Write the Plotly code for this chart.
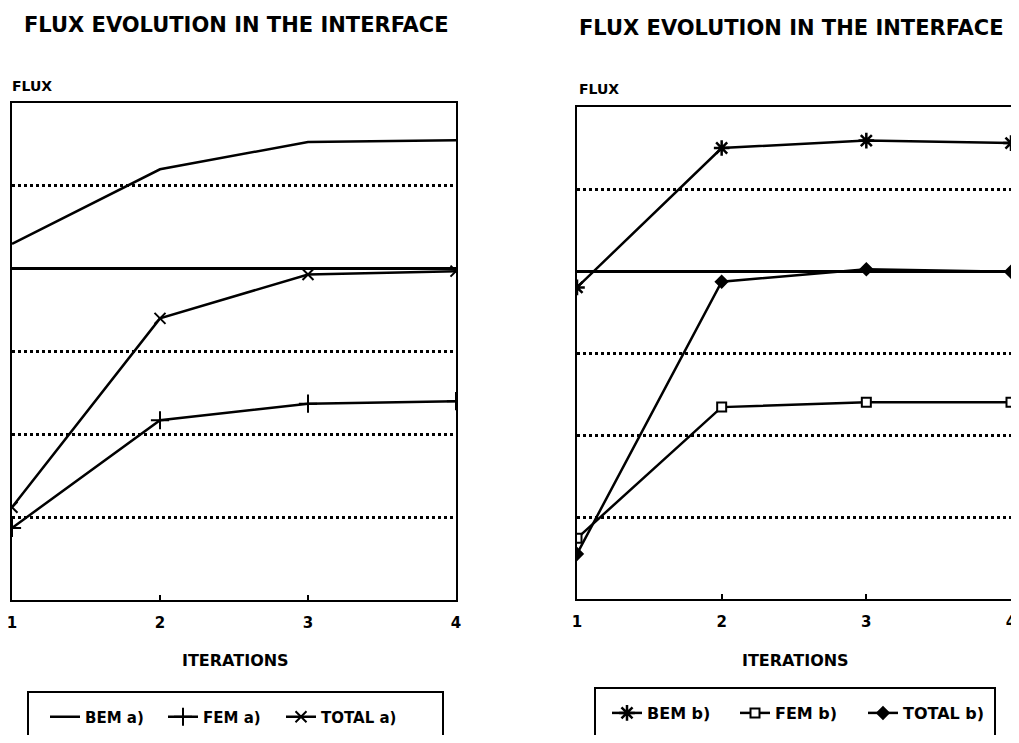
import plotly.graph_objects as go

iterations = [1, 2, 3, 4]
tick_labels = ["1", "2", "3", "4"]

bem_a = [0.30, 1.20, 1.53, 1.55]
fem_a = [-3.13, -1.83, -1.63, -1.60]
total_a = [-2.88, -0.60, -0.07, -0.03]

bem_b = [-0.20, 1.50, 1.59, 1.56]
fem_b = [-3.26, -1.66, -1.60, -1.60]
total_b = [-3.45, -0.13, 0.02, -0.01]

OFF = 8            # default page margin around the figure
W, H = 1003, 727   # figure size so the page fits the window
FONT = "DejaVu Sans"
BLACK = "black"

def px_x(v):
    return min(max((v - OFF) / W, 0.0), 1.0)

def px_y(v):
    return (OFF + H - v) / H

fig = go.Figure()
lw = 2.5

def add(x, y, name, symbol, size, xa, ya, leg, mode="lines+markers", mlw=2, fill="white"):
    fig.add_trace(go.Scatter(
        x=x, y=y, name=name, mode=mode, xaxis=xa, yaxis=ya, legend=leg,
        line=dict(color=BLACK, width=lw),
        marker=dict(symbol=symbol, size=size, color=fill,
                    line=dict(color=BLACK, width=mlw)),
    ))

add(iterations, bem_a, "BEM a)", "circle", 4, "x", "y", "legend", mode="lines")
add(iterations, fem_a, "FEM a)", "cross-thin", 13, "x", "y", "legend")
add(iterations, total_a, "TOTAL a)", "x-thin", 11, "x", "y", "legend")

add(iterations, bem_b, "BEM b)", "asterisk", 13, "x2", "y2", "legend2", mlw=2.5)
add(iterations, fem_b, "FEM b)", "square", 9, "x2", "y2", "legend2", fill="white")
add(iterations, total_b, "TOTAL b)", "diamond", 9, "x2", "y2", "legend2", fill=BLACK)

xcommon = dict(range=[1, 4], tickvals=iterations, ticktext=tick_labels, showgrid=False,
               zeroline=False, showline=True, linecolor=BLACK, linewidth=2, mirror=True,
               ticks="inside", ticklen=5, tickwidth=1.5, tickcolor=BLACK,
               tickfont=dict(family=FONT, size=15, color=BLACK, weight="bold"),
               ticklabelstandoff=8, ticklabeloverflow="allow", fixedrange=True)
ycommon = dict(range=[-4, 2], dtick=1, showticklabels=False, showgrid=True,
               gridcolor=BLACK, gridwidth=2.5, griddash="dot",
               zeroline=True, zerolinecolor=BLACK, zerolinewidth=2.5,
               showline=True, linecolor=BLACK, linewidth=2, mirror=True, ticks="",
               fixedrange=True)

legfont_a = dict(family=FONT, size=15, color=BLACK, weight="bold")
legfont_b = dict(family=FONT, size=16, color=BLACK, weight="bold")
fig.update_layout(
    width=W, height=H, margin=dict(l=0, r=0, t=0, b=0, autoexpand=False),
    paper_bgcolor="white", plot_bgcolor="white",
    xaxis=dict(domain=[px_x(12), px_x(456)], anchor="y", **xcommon),
    yaxis=dict(domain=[px_y(600), px_y(103)], anchor="x", **ycommon),
    xaxis2=dict(domain=[px_x(577), px_x(1011)], anchor="y2", **xcommon),
    yaxis2=dict(domain=[px_y(599), px_y(107)], anchor="x2", **ycommon),
    legend=dict(orientation="h", x=px_x(45), y=px_y(717), xanchor="left", yanchor="middle",
                entrywidth=73, itemwidth=30, bgcolor="rgba(0,0,0,0)", font=legfont_a),
    legend2=dict(orientation="h", x=px_x(607), y=px_y(713), xanchor="left", yanchor="middle",
                 entrywidth=83, itemwidth=30, bgcolor="rgba(0,0,0,0)", font=legfont_b),
    showlegend=True,
)

# legend frames (run past the bottom edge as in the reference)
fig.add_shape(type="rect", xref="paper", yref="paper", x0=px_x(28), x1=px_x(443),
              y0=px_y(760), y1=px_y(692), line=dict(color=BLACK, width=2))
fig.add_shape(type="rect", xref="paper", yref="paper", x0=px_x(595), x1=px_x(995),
              y0=px_y(760), y1=px_y(688), line=dict(color=BLACK, width=2))

def ann(text, x, y, size, xanchor="center"):
    fig.add_annotation(text=text, x=px_x(x), y=px_y(y), xref="paper", yref="paper",
                       xanchor=xanchor, yanchor="middle", showarrow=False,
                       font=dict(family=FONT, size=size, color=BLACK, weight="bold"))

ann("FLUX EVOLUTION IN THE INTERFACE", 236, 25, 21)
ann("FLUX EVOLUTION IN THE INTERFACE", 791, 28, 21)
ann("FLUX", 10, 86, 14, xanchor="left")
ann("FLUX", 577, 89, 14, xanchor="left")
ann("ITERATIONS", 235, 660, 16)
ann("ITERATIONS", 795, 660, 16)

fig.write_html("out.html")
